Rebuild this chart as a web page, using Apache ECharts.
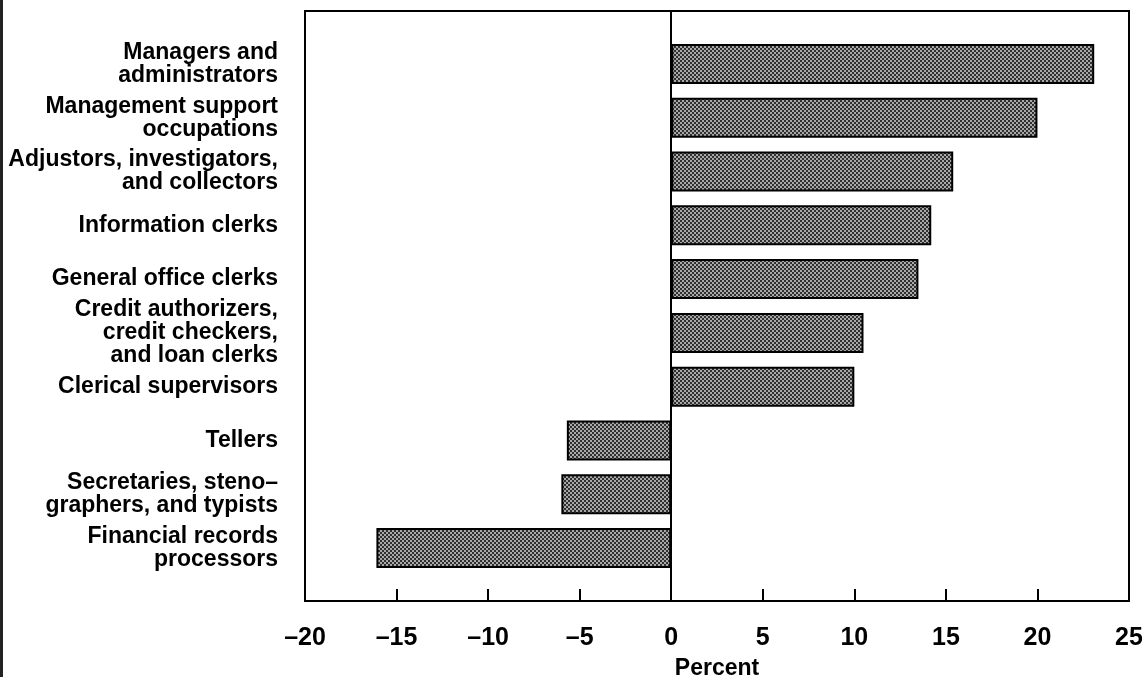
<!DOCTYPE html>
<html>
<head>
<meta charset="utf-8">
<script src="https://cdn.jsdelivr.net/npm/echarts@6/dist/echarts.min.js"></script>
<style>
html,body{margin:0;padding:0;background:#fff;}
#chart{width:1142px;height:677px;}
</style>
</head>
<body>
<div id="chart"></div>
<script>
// ---- data ----
const categories = [
  "Managers and\nadministrators",
  "Management support\noccupations",
  "Adjustors, investigators,\nand collectors",
  "Information clerks",
  "General office clerks",
  "Credit authorizers,\ncredit checkers,\nand loan clerks",
  "Clerical supervisors",
  "Tellers",
  "Secretaries, steno–\ngraphers, and typists",
  "Financial records\nprocessors"
];
const percentChange = [23.1, 20.0, 15.4, 14.2, 13.5, 10.5, 10.0, -5.7, -6.0, -16.1];
const xMin = -20, xMax = 25, xStep = 5;
const axisTitle = "Percent";

// ---- stipple pattern for bars ----
const pc = document.createElement('canvas');
pc.width = 4; pc.height = 4;
const pctx = pc.getContext('2d');
pctx.fillStyle = '#a8a8a8'; pctx.fillRect(0,0,4,4);
pctx.fillStyle = '#303030'; pctx.fillRect(0,0,2,2); pctx.fillRect(2,2,2,2);

const FONT = '"Liberation Sans", Arial, sans-serif';
const chart = echarts.init(document.getElementById('chart'), null, {renderer:'canvas'});

chart.setOption({
  animation: false,
  backgroundColor: '#fff',
  grid: [
    {left: 305, right: 13, top: 11, bottom: 76, show: true, borderColor: '#000', borderWidth: 2,
     backgroundColor: 'transparent', containLabel: false, outerBoundsMode: 'none'},
    {left: 305, right: 13, top: 37, bottom: 102, containLabel: false, outerBoundsMode: 'none'}
  ],
  xAxis: [
    {
      gridIndex: 0, type: 'value', min: xMin, max: xMax, interval: xStep,
      axisLine: {show: true, onZero: false, lineStyle: {color: '#000', width: 2}},
      axisTick: {show: true, inside: true, length: 12, lineStyle: {color: '#000', width: 2}},
      splitLine: {show: false},
      axisLabel: {
        color: '#000', fontFamily: FONT, fontWeight: 'bold', fontSize: 25, margin: 25,
        formatter: v => String(v).replace('-', '–')
      },
      name: axisTitle, nameLocation: 'middle', nameGap: 56,
      nameTextStyle: {color: '#000', fontFamily: FONT, fontWeight: 'bold', fontSize: 23}
    },
    {
      gridIndex: 1, type: 'value', min: xMin, max: xMax, interval: xStep, show: false
    }
  ],
  yAxis: [
    {
      gridIndex: 0, type: 'value', min: 0, max: 1,
      axisLine: {show: true, onZero: true, lineStyle: {color: '#000', width: 2}},
      axisTick: {show: false}, axisLabel: {show: false}, splitLine: {show: false}
    },
    {
      gridIndex: 1, type: 'category', data: categories, inverse: true,
      axisLine: {show: false}, axisTick: {show: false}, splitLine: {show: false},
      axisLabel: {
        color: '#000', fontFamily: FONT, fontWeight: 'bold', fontSize: 23, lineHeight: 23,
        margin: 27, align: 'right'
      }
    }
  ],
  graphic: [
    {type: 'rect', left: 0, top: 0, shape: {width: 3, height: 677}, style: {fill: '#222'}, silent: true}
  ],
  series: [
    {
      type: 'bar', xAxisIndex: 1, yAxisIndex: 1,
      data: percentChange,
      barWidth: 40,
      itemStyle: {
        color: {image: pc, repeat: 'repeat'},
        borderColor: '#000', borderWidth: 2
      }
    }
  ]
});
</script>
</body>
</html>
